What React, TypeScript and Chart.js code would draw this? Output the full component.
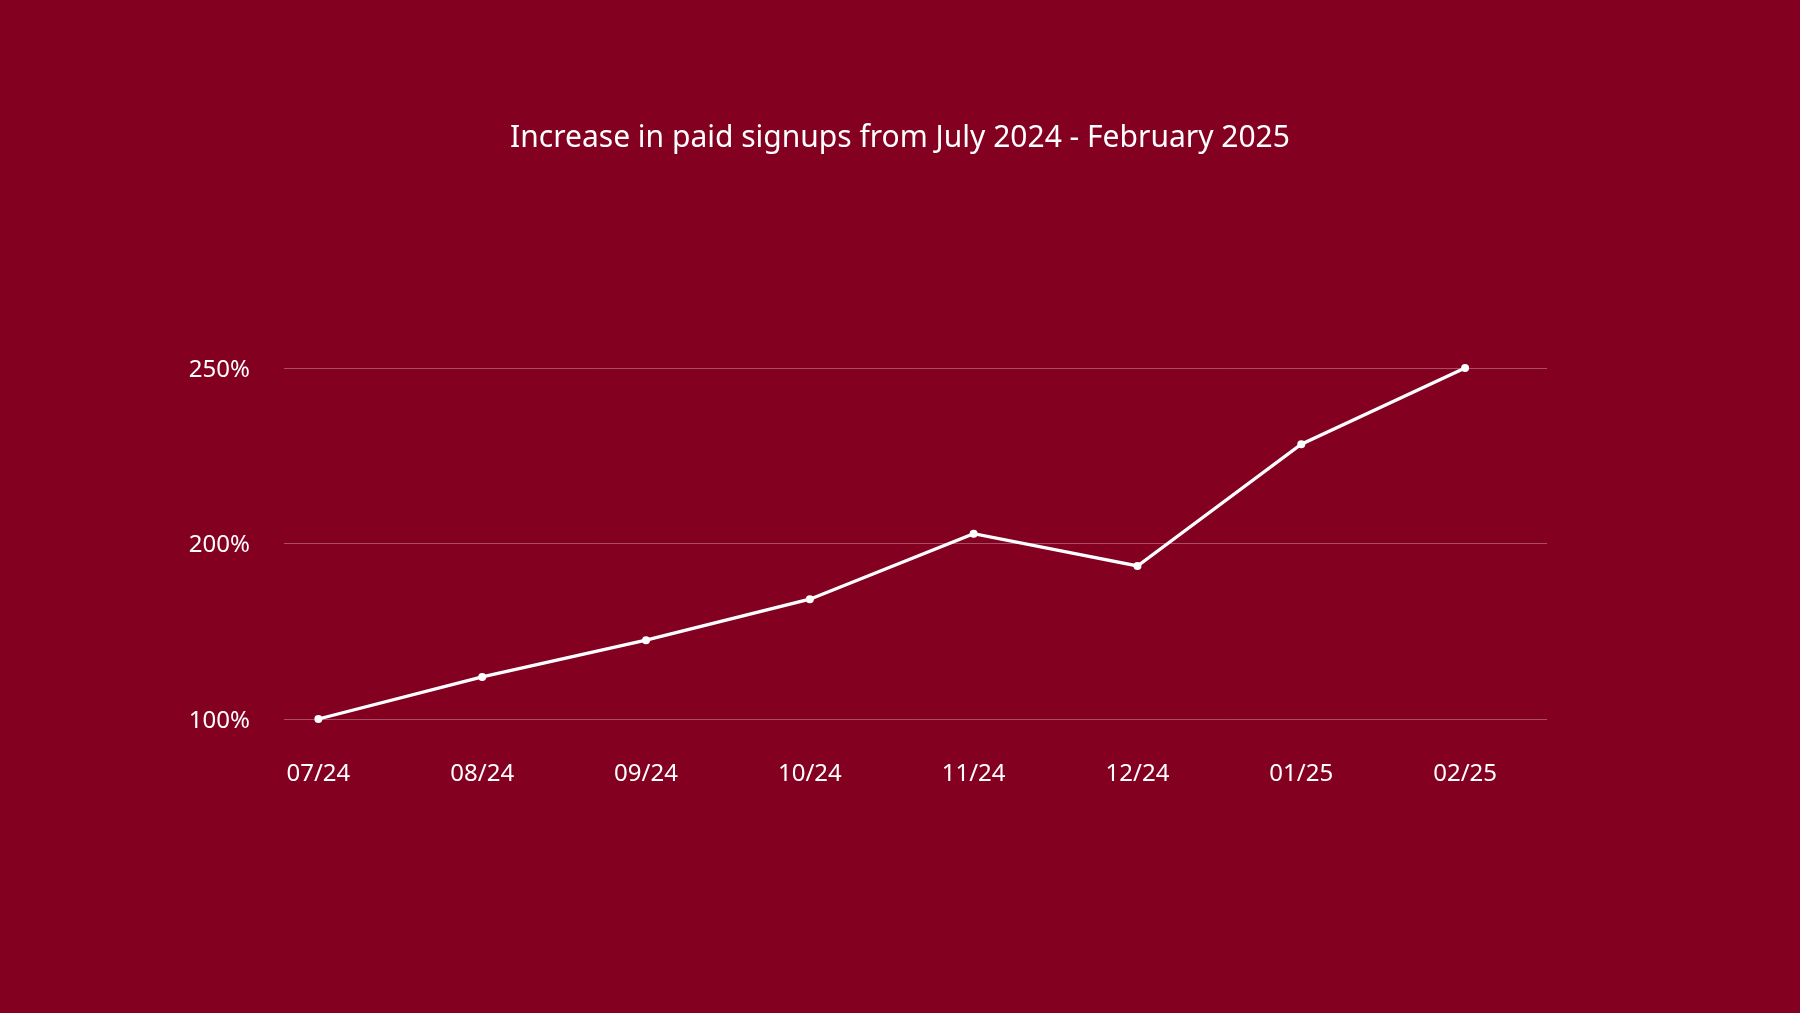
import React, { useEffect, useRef } from "react";
import { Chart, ChartConfiguration, registerables } from "chart.js";

Chart.register(...registerables);

const months = ["07/24", "08/24", "09/24", "10/24", "11/24", "12/24", "01/25", "02/25"];
// values in axis units (the axis runs 100 -> 250 with three evenly spaced ticks)
const signups = [100, 118, 133.7, 151.2, 179.2, 165.4, 217.4, 250];
const yTickValues = [100, 175, 250];
const yTickLabels = ["100%", "200%", "250%"];

const BG = "#830021";
const FONT = "'Noto Sans', 'Open Sans', sans-serif";

const SignupChart: React.FC = () => {
  const chartRef = useRef<HTMLCanvasElement | null>(null);
  const chartInstance = useRef<Chart | null>(null);

  useEffect(() => {
    if (!chartRef.current) return;
    if (chartInstance.current) chartInstance.current.destroy();

    const ctx = chartRef.current.getContext("2d");
    if (!ctx) return;

    const config: ChartConfiguration = {
      type: "line",
      data: {
        datasets: [
          {
            label: "Paid signups",
            data: signups.map((v, i) => ({ x: i, y: v })),
            borderColor: "#ffffff",
            borderWidth: 3.3,
            pointRadius: 4,
            pointBackgroundColor: "#ffffff",
            pointBorderWidth: 0,
            fill: false,
            tension: 0,
            clip: false,
          },
        ],
      },
      options: {
        responsive: false,
        animation: false,
        layout: { padding: { left: 0, right: 0, top: 0, bottom: 214 } },
        plugins: {
          legend: { display: false },
          tooltip: { enabled: false },
          title: {
            display: true,
            text: "Increase in paid signups from July 2024 - February 2025",
            color: "#ffffff",
            font: { family: FONT, size: 30, weight: "normal" },
            padding: { top: 120, bottom: 212 },
          },
        },
        scales: {
          x: {
            type: "linear",
            min: -0.21,
            max: 7.5,
            afterBuildTicks: (axis: any) => {
              axis.ticks = months.map((_, i) => ({ value: i }));
            },
            afterFit: (axis: any) => {
              axis.height = 80;
            },
            grid: { display: false, drawTicks: false },
            border: { display: false },
            ticks: {
              color: "#ffffff",
              padding: 41,
              font: { family: FONT, size: 24 },
              maxRotation: 0,
              autoSkip: false,
              callback: (value: any) => months[Number(value)] ?? "",
            },
          },
          y: {
            type: "linear",
            min: 100,
            max: 250,
            afterBuildTicks: (axis: any) => {
              axis.ticks = yTickValues.map((v) => ({ value: v }));
            },
            afterFit: (axis: any) => {
              axis.width = 284;
            },
            grid: { color: "rgba(255,255,255,0.3)", lineWidth: 1, drawTicks: false },
            border: { display: false },
            ticks: {
              color: "#ffffff",
              padding: 34,
              labelOffset: 2,
              font: { family: FONT, size: 24 },
              callback: (value: any) => yTickLabels[yTickValues.indexOf(Number(value))] ?? "",
            },
          },
          // empty right-hand axis, only reserves the blank space right of the plot
          spacer: {
            type: "linear",
            position: "right",
            afterFit: (axis: any) => {
              axis.width = 253;
            },
            grid: { display: false, drawTicks: false },
            border: { display: false },
            ticks: { display: false },
          },
        },
      },
    };

    chartInstance.current = new Chart(ctx, config);

    return () => {
      if (chartInstance.current) {
        chartInstance.current.destroy();
        chartInstance.current = null;
      }
    };
  }, []);

  return <canvas ref={chartRef} width={1800} height={1013} style={{ display: "block" }}></canvas>;
};

export default function App() {
  return (
    <div style={{ position: "fixed", left: 0, top: 0, width: 1800, height: 1013, background: BG }}>
      <SignupChart />
    </div>
  );
}
